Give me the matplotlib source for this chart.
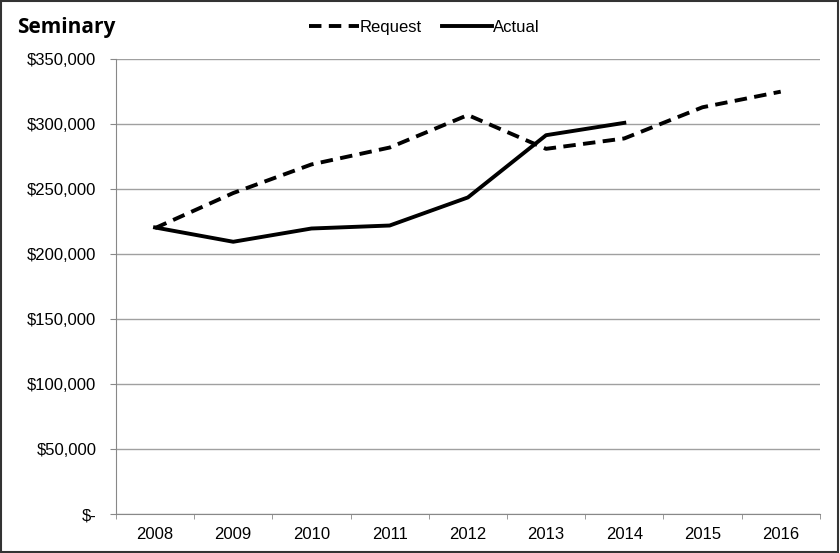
import numpy as np
import matplotlib.pyplot as plt
from matplotlib.patches import Rectangle
from matplotlib.ticker import FuncFormatter, FixedLocator

years = ['2008', '2009', '2010', '2011', '2012', '2013', '2014', '2015', '2016']
request = [220000, 247000, 269000, 282000, 307000, 281000, 289000, 313000, 325000]
actual = [220500, 209500, 219700, 222000, 243600, 291500, 301000]

plt.rcParams['font.family'] = ['Liberation Sans', 'DejaVu Sans']

fig = plt.figure(figsize=(8.4, 5.53), dpi=100)
ax = fig.add_axes([0.138, 0.0705, 0.838, 0.8225])

x = np.arange(len(years))
ax.plot(x, request, color='black', lw=2.8, ls=(0, (3.2, 1.9)), label='Request')
ax.plot(x[:len(actual)], actual, color='black', lw=2.8, label='Actual')

ax.set_xlim(-0.5, len(years) - 0.5)
ax.set_ylim(0, 350000)
ax.set_yticks(np.arange(0, 350001, 50000))
ax.yaxis.set_major_formatter(FuncFormatter(lambda v, p: '$-' if v == 0 else '${:,.0f}'.format(v)))
ax.set_xticks(x)
ax.set_xticklabels(years)
ax.xaxis.set_minor_locator(FixedLocator(np.arange(-0.5, len(years), 1)))
ax.tick_params(axis='x', which='major', length=0, pad=9.5, labelsize=12)
ax.tick_params(axis='x', which='minor', length=3.5, color='#888888')
ax.tick_params(axis='y', length=4, color='#888888', labelsize=12, pad=10)

ax.grid(axis='y', color='#a0a0a0', lw=1)
ax.set_axisbelow(True)
for s in ['top', 'right']:
    ax.spines[s].set_visible(False)
for s in ['left', 'bottom']:
    ax.spines[s].set_color('#888888')

fig.text(0.02, 0.95, 'Seminary', fontsize=15, fontweight='bold',
         family=['Open Sans', 'DejaVu Sans'], va='center')
fig.legend(loc='center', bbox_to_anchor=(0.505, 0.951), ncol=2, frameon=False,
           fontsize=12, handlelength=3.0, handletextpad=0.05, columnspacing=1.2)

fig.patches.append(Rectangle((0.001, 0.001), 0.997, 0.997, transform=fig.transFigure,
                             fill=False, edgecolor='#333333', lw=1.5))

fig.savefig('out.png', dpi=100)
